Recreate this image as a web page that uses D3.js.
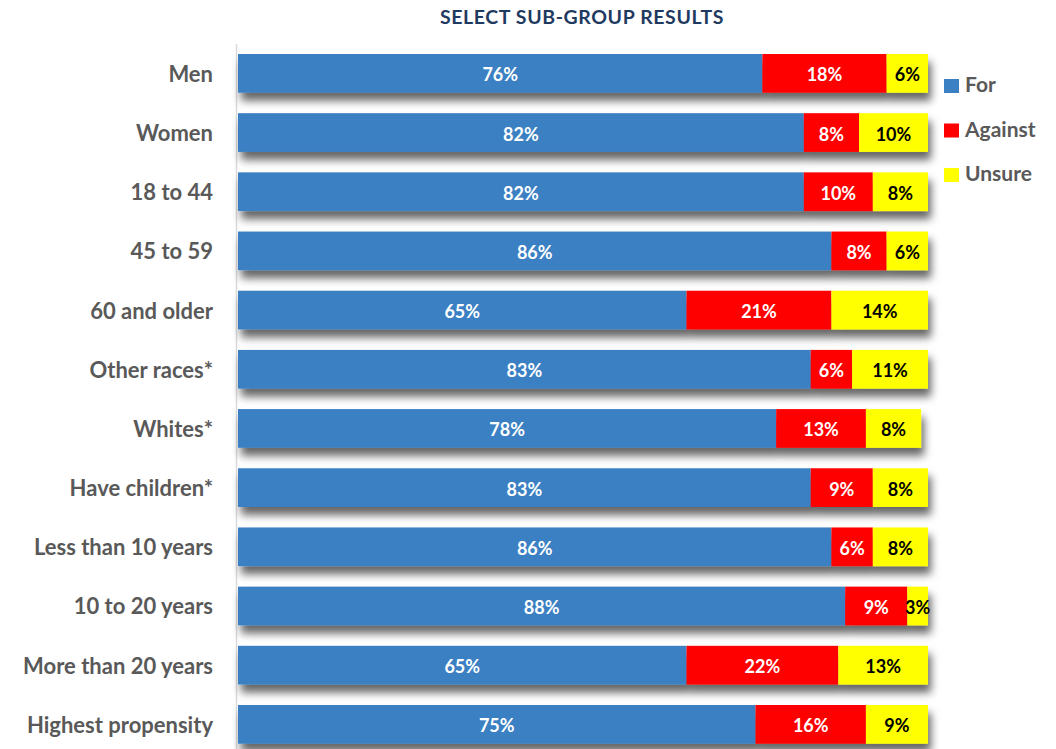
<!DOCTYPE html>
<html><head><meta charset="utf-8">
<script src="https://cdn.jsdelivr.net/npm/d3@7"></script>
<style>body{margin:0;background:#fff}svg{display:block}</style>
</head><body>
<script>
const categories = ["Men","Women","18 to 44","45 to 59","60 and older","Other races*","Whites*","Have children*","Less than 10 years","10 to 20 years","More than 20 years","Highest propensity"];
const forVals = [76,82,82,86,65,83,78,83,86,88,65,75];
const againstVals = [18,8,10,8,21,6,13,9,6,9,22,16];
const unsureVals = [6,10,8,6,14,11,8,8,8,3,13,9];
const seriesNames = ["For","Against","Unsure"];
const colors = ["#3a80c3","#ff0000","#ffff00"];
const labelColors = ["#ffffff","#ffffff","#000000"];
const title = "SELECT SUB-GROUP RESULTS";

const W=1056,H=749;
const svg=d3.select("body").append("svg").attr("width",W).attr("height",H);
const defs=svg.append("defs");
const f=defs.append("filter").attr("id","sh").attr("x","-5%").attr("y","-30%").attr("width","115%").attr("height","200%");
f.append("feDropShadow").attr("dx",3).attr("dy",8).attr("stdDeviation",4).attr("flood-color","#000").attr("flood-opacity",0.6);

const x=d3.scaleLinear().domain([0,100]).range([238,928]);
const y=d3.scaleBand().domain(categories).range([54,743.7]).paddingInner(0.346).paddingOuter(0);

svg.append("text").attr("x",582).attr("y",24).attr("text-anchor","middle")
 .attr("font-family","Lato, sans-serif").attr("font-weight","bold").attr("font-size",19.5)
 .attr("letter-spacing",0.6).attr("fill","#1f3a60").text(title);

svg.append("line").attr("x1",236.5).attr("x2",236.5).attr("y1",44).attr("y2",749).attr("stroke","#d9d9d9").attr("stroke-width",1.5);

const data=categories.map((c,i)=>({c,v:[forVals[i],againstVals[i],unsureVals[i]]}));
const rows=svg.selectAll("g.row").data(data).enter().append("g").attr("class","row");
rows.each(function(d){
  const g=d3.select(this);
  const bg=g.append("g").attr("filter","url(#sh)");
  let cum=0;
  const segs=d.v.map((v,k)=>{const s={k,v,x0:cum,x1:cum+v};cum+=v;return s;});
  bg.selectAll("rect").data(segs).enter().append("rect")
    .attr("x",s=>x(s.x0)).attr("width",s=>x(s.x1)-x(s.x0))
    .attr("y",y(d.c)).attr("height",y.bandwidth()).attr("fill",s=>colors[s.k]);
  g.selectAll("text.v").data(segs).enter().append("text").attr("class","v")
    .attr("x",s=>(x(s.x0)+x(s.x1))/2).attr("y",y(d.c)+y.bandwidth()/2+8)
    .attr("text-anchor","middle").attr("font-family","Lato, sans-serif").attr("font-weight","bold")
    .attr("font-size",18).attr("fill",s=>labelColors[s.k]).text(s=>s.v+"%");
  g.append("text").attr("x",213).attr("y",y(d.c)+y.bandwidth()/2+8.5).attr("text-anchor","end")
    .attr("font-family","Lato, sans-serif").attr("font-weight","bold").attr("font-size",22)
    .attr("fill","#595959").text(d.c);
});

const leg=svg.append("g");
seriesNames.forEach((n,i)=>{
  const base=92+i*44.5;
  leg.append("rect").attr("x",944).attr("y",base-13).attr("width",15).attr("height",14).attr("fill",colors[i]);
  leg.append("text").attr("x",965).attr("y",base).attr("font-family","Lato, sans-serif").attr("font-weight","bold")
    .attr("font-size",21).attr("fill","#595959").text(n);
});
</script>
</body></html>
